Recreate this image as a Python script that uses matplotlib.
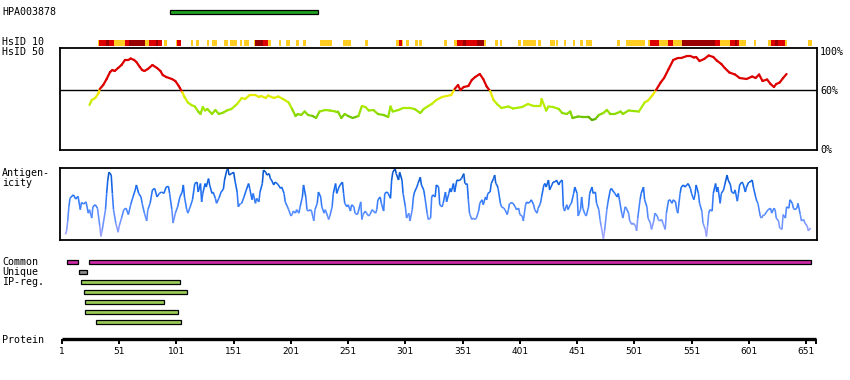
import numpy as np
import matplotlib
matplotlib.use('Agg')
import matplotlib.pyplot as plt
from matplotlib.collections import LineCollection
from matplotlib.colors import LinearSegmentedColormap, Normalize

# antibody target region
hpa_name = 'HPA003878'
hpa_start, hpa_end = 95, 225

# HsID 10 blocks (1 = yellow, 2 = red, 3 = dark red)
hs10_start = [33, 34, 40, 42, 47, 52, 56, 60, 74, 77,
              83, 85, 90, 101, 102, 114, 118, 128, 132, 143,
              148, 157, 160, 169, 170, 177, 181, 191, 197, 206,
              212, 227, 234, 247, 266, 293, 296, 298, 302, 310,
              313, 335, 344, 346, 352, 354, 364, 370, 380, 384,
              400, 404, 417, 428, 433, 440, 448, 454, 459, 462,
              486, 494, 513, 515, 523, 531, 535, 543, 572, 576,
              585, 589, 591, 593, 606, 618, 621, 624, 627, 633, 653]
hs10_end = [34, 40, 42, 47, 51, 56, 60, 74, 77, 83,
            85, 88, 92, 102, 105, 115, 120, 129, 136, 146,
            154, 158, 164, 170, 177, 181, 183, 192, 200, 208,
            214, 233, 237, 253, 268, 296, 298, 299, 304, 312,
            315, 337, 346, 352, 354, 364, 370, 371, 382, 385,
            402, 415, 419, 431, 434, 441, 449, 456, 461, 464,
            488, 510, 515, 523, 531, 535, 543, 572, 576, 585,
            589, 591, 593, 598, 607, 621, 624, 627, 633, 634, 656]
hs10_level = [1, 2, 3, 2, 1, 1, 2, 3, 1, 2,
              3, 2, 1, 1, 2, 1, 1, 1, 1, 1,
              1, 1, 1, 1, 3, 2, 1, 1, 1, 1,
              1, 1, 1, 1, 1, 1, 2, 1, 1, 1,
              1, 1, 1, 2, 3, 2, 3, 1, 1, 1,
              1, 1, 1, 1, 1, 1, 1, 1, 1, 1,
              1, 1, 1, 2, 1, 2, 1, 3, 2, 1,
              2, 3, 2, 1, 1, 1, 2, 3, 2, 1, 1]

# HsID 50 similarity (%)
sim_pos = [25, 27, 30, 33, 34, 37, 40, 43, 45, 47,
           50, 53, 56, 59, 61, 64, 66, 69, 71, 73,
           76, 80, 84, 87, 89, 92, 97, 100, 103, 104,
           106, 108, 111, 114, 117, 120, 122, 124, 126, 128,
           132, 135, 138, 142, 145, 149, 154, 158, 161, 165,
           170, 173, 175, 179, 181, 186, 190, 194, 199, 202,
           205, 207, 210, 213, 216, 220, 223, 226, 231, 235,
           240, 242, 245, 248, 251, 255, 260, 263, 266, 269,
           273, 277, 282, 286, 288, 290, 295, 299, 305, 309,
           314, 317, 321, 324, 328, 333, 337, 341, 344, 347,
           349, 352, 356, 359, 362, 366, 369, 372, 375, 378,
           381, 385, 391, 395, 403, 408, 413, 419, 420, 424,
           426, 430, 435, 438, 442, 445, 447, 452, 456, 461,
           464, 467, 470, 474, 477, 480, 484, 489, 491, 496,
           500, 505, 510, 513, 517, 520, 524, 527, 531, 535,
           539, 542, 547, 550, 553, 555, 558, 562, 566, 570,
           573, 577, 580, 584, 589, 593, 599, 604, 607, 610,
           613, 617, 620, 623, 625, 628, 631, 634]
sim_val = [45, 50, 52, 57, 61, 65, 71, 78, 80, 79,
           82, 85, 90, 90, 91.5, 90, 88, 83, 80, 79,
           81, 85, 82, 79, 75, 73, 71, 69, 64, 62,
           58, 53, 47.5, 45, 43.5, 38.5, 36, 43, 39.5, 41,
           36, 40, 36, 37.5, 39.5, 41, 46, 52, 51, 55,
           55, 53, 54, 52, 54.5, 52, 53.5, 51, 47.5, 41,
           34, 36, 35, 38.5, 35, 34, 32, 38.5, 40, 39.5,
           38.5, 38.5, 32, 36, 34, 32, 34, 44, 43, 39.5,
           40, 36, 35, 33, 43.5, 38.5, 40, 42, 42, 41,
           37, 41, 44, 46, 50, 53, 54, 55, 61, 65,
           60, 63, 64, 70, 73, 76, 71, 63.5, 59, 50,
           46, 42, 43.5, 41.5, 43, 46, 44, 44, 51, 39.5,
           43.5, 43, 41, 37, 36, 38.5, 32, 33.5, 33, 33,
           30, 31, 35, 37, 40, 36, 36, 38.5, 36, 39.5,
           39, 38.5, 47.5, 49.5, 55, 60, 67.5, 72, 81, 90,
           92, 92, 94, 94, 92.5, 93, 89, 91, 94.5, 93,
           89.5, 86, 82, 77.5, 75.5, 72, 71, 73.5, 72, 75.5,
           69, 70.5, 66, 63, 66, 67.5, 72, 76]

# antigenicity (relative, 0-100)
ant_pos = [4, 5, 6, 7, 8, 9, 11, 13, 15, 17,
           18, 20, 22, 24, 25, 27, 28, 30, 32, 34,
           35, 36, 39, 40, 41, 42, 44, 45, 46, 48,
           50, 51, 53, 55, 57, 59, 61, 63, 65, 66,
           68, 70, 71, 73, 75, 76, 78, 80, 82, 84,
           86, 88, 90, 92, 94, 95, 97, 98, 100, 102,
           104, 106, 107, 108, 110, 111, 113, 115, 117, 119,
           120, 122, 123, 124, 126, 127, 129, 130, 132, 133,
           135, 136, 138, 140, 142, 143, 145, 146, 147, 149,
           151, 152, 154, 155, 157, 158, 160, 162, 164, 165,
           167, 168, 170, 171, 173, 174, 176, 177, 179, 180,
           182, 183, 184, 186, 187, 189, 190, 192, 193, 195,
           196, 198, 199, 201, 202, 203, 205, 206, 208, 209,
           211, 212, 214, 215, 216, 218, 219, 221, 222, 224,
           225, 227, 228, 230, 231, 233, 234, 235, 237, 238,
           240, 241, 243, 244, 246, 247, 248, 250, 251, 253,
           254, 256, 257, 259, 260, 262, 263, 264, 266, 267,
           269, 270, 272, 273, 275, 276, 277, 279, 280, 282,
           283, 285, 286, 288, 289, 290, 292, 293, 295, 296,
           298, 299, 301, 302, 304, 305, 307, 308, 309, 311,
           312, 314, 315, 317, 318, 320, 321, 323,
           324, 325, 327, 328, 330, 331, 333, 334, 336, 337,
           339, 340, 341, 343, 344, 346, 348, 350, 352, 353,
           355, 356, 357, 359, 360, 362, 363, 365, 366, 368,
           369, 371, 372, 373, 375, 376, 378, 379, 380, 381,
           382, 384, 385, 387, 388, 390, 391, 392, 394, 395,
           397, 398, 400, 401, 403, 404, 406, 407, 408, 410,
           411, 413, 414, 416, 417, 419, 420, 422, 423, 424,
           426, 427, 429, 430, 432, 433, 435, 436, 438, 439,
           440, 442, 443, 445, 446, 448, 449, 451, 452, 454,
           455, 456, 458, 459, 461, 462, 464, 465, 467, 468,
           470, 471, 472, 474, 475, 477, 478, 480, 481, 483,
           484, 486, 487, 488, 490, 491, 493, 494, 496, 497,
           499, 500, 502, 503, 504, 506, 507, 509, 510, 512,
           513, 515, 516, 518, 519, 521, 522, 523, 525, 526,
           528, 529, 531, 532, 534, 535, 537, 538, 539, 541,
           542, 544, 545, 547, 548, 550, 551, 553, 554, 555,
           557, 558, 560, 561, 563, 564, 565, 566, 567, 569,
           570, 572, 573, 574, 576, 577, 579, 580, 582, 583,
           585, 586, 588, 589, 591, 592, 593, 595, 596, 598,
           599, 601, 602, 604, 605, 607, 608, 609, 611, 612,
           614, 615, 617, 618, 620, 621, 623, 624, 625, 627,
           628, 630, 631, 633, 634, 636, 637, 639, 640, 641,
           643, 644, 646, 647, 649, 650, 652, 653, 655]
ant_val = [7, 12, 26, 46, 58, 60, 63, 57, 61, 42,
           52, 50, 53, 37, 42, 30, 46, 49, 44, 19,
           4, 12, 42, 65, 84, 95, 91, 65, 42, 23,
           10, 19, 30, 42, 44, 35, 49, 60, 70, 77,
           65, 60, 51, 37, 26, 42, 51, 70, 72, 60,
           65, 67, 65, 74, 75, 65, 42, 23, 37, 46,
           60, 67, 77, 60, 42, 37, 46, 56, 79, 81,
           67, 79, 53, 65, 79, 74, 86, 77, 65, 67,
           58, 51, 58, 67, 71, 84, 98, 100, 91, 93,
           95, 84, 67, 46, 51, 51, 60, 70, 79, 72,
           56, 65, 51, 58, 53, 67, 79, 98, 95, 91,
           93, 86, 84, 77, 81, 79, 77, 72, 74, 65,
           53, 46, 42, 33, 35, 40, 37, 42, 37, 46,
           60, 77, 60, 42, 40, 42, 40, 26, 42, 51,
           67, 60, 46, 37, 42, 33, 28, 33, 46, 65,
           79, 65, 74, 77, 81, 65, 51, 46, 49, 40,
           49, 46, 37, 35, 40, 53, 28, 35, 40, 37,
           33, 35, 42, 40, 37, 42, 56, 60, 51, 40,
           65, 67, 65, 58, 84, 95, 100, 93, 84, 95,
           84, 65, 46, 30, 37, 26, 42, 60, 67, 74,
           79, 88, 77, 70, 60, 37, 28, 30,
           60, 63, 60, 77, 74, 49, 46, 51, 67, 53,
           65, 72, 67, 79, 67, 84, 83, 86, 93, 79,
           79, 56, 37, 28, 30, 28, 30, 40, 51, 56,
           49, 60, 56, 65, 67, 79, 86, 91, 79, 77,
           72, 51, 46, 44, 42, 35, 42, 51, 51, 51,
           46, 42, 44, 35, 33, 26, 49, 53, 51, 53,
           56, 49, 42, 37, 44, 51, 60, 77, 79, 74,
           84, 70, 77, 81, 81, 84, 77, 81, 84, 46,
           40, 49, 42, 49, 51, 65, 74, 65, 33, 42,
           60, 44, 35, 33, 46, 65, 74, 65, 67, 51,
           42, 28, 19, 1, 12, 42, 53, 70, 72, 67,
           65, 60, 65, 56, 37, 30, 46, 44, 37, 26,
           21, 23, 19, 12, 30, 56, 65, 74, 56, 46,
           30, 23, 14, 26, 37, 33, 28, 26, 28, 23,
           14, 37, 56, 56, 51, 56, 53, 42, 37, 65,
           74, 77, 74, 77, 79, 72, 65, 56, 63, 77,
           65, 51, 40, 23, 14, 4, 19, 37, 42, 40,
           65, 79, 67, 74, 51, 65, 70, 77, 91, 84,
           77, 67, 65, 70, 54, 65, 77, 81, 79, 67,
           74, 81, 81, 84, 74, 60, 54, 51, 33, 30,
           35, 35, 40, 42, 44, 37, 44, 42, 30, 26,
           16, 14, 35, 30, 46, 44, 56, 51, 44, 42,
           44, 51, 35, 26, 28, 23, 19, 12, 16]

common_start = [5, 25]
common_end = [15, 655]
unique_start = [16]
unique_end = [23]
ipreg_start = [18, 20, 21, 21, 31]
ipreg_end = [104, 110, 90, 102, 105]

tick_res = list(range(1, 652, 50))
prot_len = 660

W, H = 850, 380
fig = plt.figure(figsize=(W / 100, H / 100), dpi=100)
fig.patch.set_facecolor('white')
mono = 'DejaVu Sans Mono'


def box(x0, y0, x1, y1):
    # axes placed by pixel edges
    return fig.add_axes([x0 / W, 1 - y1 / H, (x1 - x0) / W, (y1 - y0) / H])


xlim = (-0.75, 660.6)

# similarity panel
ax1 = box(60, 48, 817, 150)
ax1.set_xlim(xlim)
ax1.set_ylim(0, 102)
ax1.set_xticks([])
ax1.set_yticks([])
for s in ax1.spines.values():
    s.set_linewidth(1.3)
ax1.axhline(60, color='black', lw=1)

sim_cmap = LinearSegmentedColormap.from_list(
    'sim', [(0, '#55a800'), (0.15, '#80d400'), (0.4, '#a8ec00'),
            (0.75, '#dcee00'), (1, '#ffe600')])
pts = np.column_stack([sim_pos, sim_val])
segs = np.stack([pts[:-1], pts[1:]], axis=1)
mid = (pts[:-1, 1] + pts[1:, 1]) / 2
cols = [('#dd0000' if m >= 60 else sim_cmap((m - 30) / 30)) for m in mid]
ax1.add_collection(LineCollection(segs, colors=cols, linewidths=1.6, capstyle='round'))

# antigenicity panel
ax2 = box(60, 168, 817, 240)
ax2.set_xlim(xlim)
ax2.set_ylim(-1, 101)
ax2.set_xticks([])
ax2.set_yticks([])
for s in ax2.spines.values():
    s.set_linewidth(1.3)
ant_cmap = LinearSegmentedColormap.from_list(
    'ant', [(0, '#b0a8ff'), (0.4, '#4c88ff'), (0.7, '#1a6cf0'), (1, '#0050c0')])
pts = np.column_stack([ant_pos, ant_val])
segs = np.stack([pts[:-1], pts[1:]], axis=1)
mid = (pts[:-1, 1] + pts[1:, 1]) / 2
ax2.add_collection(LineCollection(segs, colors=ant_cmap(Normalize(0, 100)(mid)),
                                  linewidths=1.15))

# tracks (y in pixel rows)
ax0 = box(60, 0, 817, 380)
ax0.set_xlim(xlim)
ax0.set_ylim(380, 0)
ax0.axis('off')
ax0.patch.set_alpha(0)

ax0.barh(12, hpa_end - hpa_start, left=hpa_start, height=4.5,
         color='#1fa31f', edgecolor='black', lw=0.9)

hs_colors = {1: '#ffcc22', 2: '#dd0000', 3: '#990000'}
for a, b, lv in zip(hs10_start, hs10_end, hs10_level):
    ax0.barh(42.5, b - a + 0.6, left=a - 0.3, height=6, color=hs_colors[lv], lw=0)

for a, b in zip(common_start, common_end):
    ax0.barh(262, b - a, left=a, height=4.5, color='#cc2aa8', edgecolor='black', lw=0.9)
for a, b in zip(unique_start, unique_end):
    ax0.barh(272, b - a, left=a, height=4.5, color='#8c8c8c', edgecolor='black', lw=0.9)
for i, (a, b) in enumerate(zip(ipreg_start, ipreg_end)):
    ax0.barh(282 + 10 * i, b - a, left=a, height=4.5, color='#99cc55', edgecolor='black', lw=0.9)

# protein ruler
ax0.plot([1, prot_len], [339, 339], color='black', lw=2.4, solid_capstyle='butt')
ax0.vlines(tick_res + [prot_len], 339, 344, color='black', lw=1.4)
for r in tick_res:
    ax0.text(r, 352, str(r), ha='center', va='center', fontsize=6.5, family='DejaVu Sans')

# labels
left_labels = [(hpa_name, 12), ('HsID 10', 42), ('HsID 50', 52), ('Antigen-', 173),
               ('icity', 183), ('Common', 262), ('Unique', 272), ('IP-reg.', 282),
               ('Protein', 340)]
for txt, y in left_labels:
    fig.text(2 / W, 1 - y / H, txt, ha='left', va='center', fontsize=7.2, family=mono)
for txt, y in [('100%', 52), ('60%', 91), ('0%', 150)]:
    fig.text(820 / W, 1 - y / H, txt, ha='left', va='center', fontsize=7.2, family=mono)

fig.savefig('out.png', dpi=100)
